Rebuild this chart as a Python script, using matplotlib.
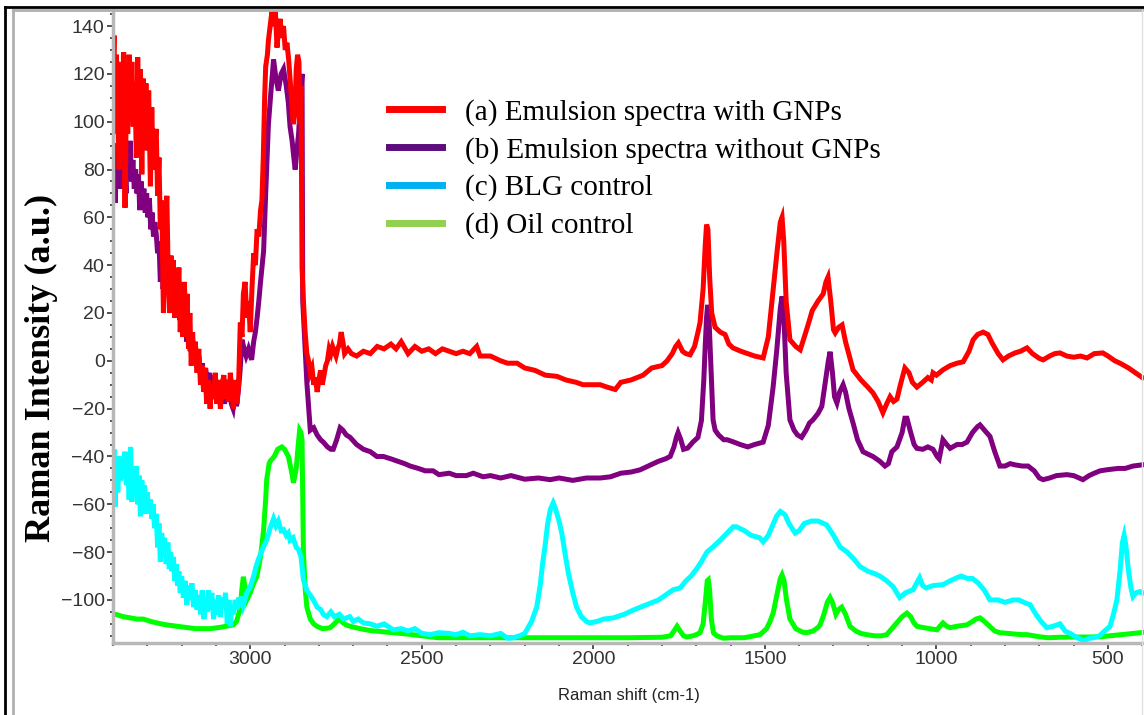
import matplotlib
matplotlib.use("Agg")
import matplotlib.pyplot as plt
from matplotlib.lines import Line2D
from matplotlib.ticker import MultipleLocator

# Raman spectra (x = Raman shift, y = intensity)
red_x = [3400, 3397, 3394, 3390, 3386, 3382, 3378, 3374, 3369, 3365, 3361, 3357, 3353, 3349, 3345,
         3341, 3336, 3332, 3328, 3324, 3320, 3316, 3312, 3308, 3304, 3300, 3296, 3291, 3287, 3283,
         3279, 3274, 3270, 3266, 3262, 3258, 3253, 3249, 3245, 3243, 3239, 3235, 3231, 3228, 3224,
         3220, 3216, 3212, 3208, 3204, 3200, 3196, 3192, 3188, 3184, 3180, 3176, 3172, 3168, 3164,
         3160, 3155, 3150, 3145, 3140, 3136, 3132, 3127, 3122, 3117, 3112, 3107, 3102, 3097, 3092,
         3087, 3082, 3077, 3072, 3067, 3062, 3058, 3054, 3049, 3044, 3039, 3034, 3031, 3029, 3024,
         3020, 3015, 3010, 3005, 3000, 2995, 2990, 2985, 2980, 2975, 2970, 2966, 2962, 2958, 2955,
         2950, 2947, 2942, 2937, 2932, 2927, 2922, 2918, 2913, 2908, 2903, 2898, 2893, 2888, 2884,
         2879, 2875, 2870, 2866, 2862, 2858, 2855, 2852, 2849, 2845, 2840, 2835, 2830, 2825, 2820,
         2815, 2810, 2805, 2800, 2795, 2790, 2785, 2780, 2775, 2770, 2765, 2760, 2755, 2750, 2745,
         2740, 2735, 2730, 2725, 2715, 2705, 2690, 2670, 2650, 2630, 2610, 2590, 2575, 2560, 2540,
         2520, 2500, 2480, 2460, 2440, 2420, 2400, 2380, 2360, 2340, 2330, 2300, 2270, 2250, 2222,
         2200, 2170, 2140, 2106, 2080, 2050, 2030, 2009, 1980, 1960, 1936, 1920, 1890, 1855, 1830,
         1800, 1785, 1770, 1760, 1752, 1740, 1730, 1718, 1705, 1695, 1689, 1680, 1674, 1670, 1666,
         1661, 1655, 1645, 1630, 1616, 1605, 1593, 1570, 1550, 1530, 1505, 1490, 1479, 1465, 1455,
         1450, 1445, 1438, 1427, 1410, 1397, 1385, 1370, 1362, 1345, 1330, 1322, 1316, 1308, 1300,
         1295, 1285, 1275, 1265, 1243, 1220, 1200, 1185, 1170, 1156, 1145, 1135, 1125, 1115, 1105,
         1092, 1080, 1070, 1057, 1040, 1025, 1015, 1010, 1000, 981, 960, 940, 922, 905, 893,
         880, 864, 850, 838, 820, 806, 790, 771, 755, 736, 720, 700, 689, 670, 655,
         640, 620, 600, 580, 561, 540, 515, 500, 480, 465, 440, 420, 400]
red_y = [120, 136, 95, 128, 100, 80, 125, 90, 129, 64, 110, 95, 128, 100, 125,
         98, 115, 85, 127, 100, 122, 78, 118, 95, 116, 88, 113, 73, 106, 80,
         90, 97, 69, 85, 55, 67, 20, 45, 65, 69, 35, 20, 44, 22, 42,
         18, 35, 25, 39, 12, 30, 10, 33, 15, 28, 5, 20, -2, 12, 0,
         8, -5, 5, -10, -2, -13, -3, -18, -8, -20, -10, -16, -5, -18, -8,
         -20, -10, -6, -16, -8, -17, -5, -12, -20, -8, -18, -10, 5, 16, 10,
         28, 33, 18, 25, 12, 30, 45, 40, 55, 52, 63, 67, 85, 110, 123,
         128, 134, 140, 146, 140, 147, 131, 138, 143, 135, 140, 130, 133, 126, 118,
         108, 99, 103, 122, 128, 125, 99, 115, 39, 25, 12, 3, 0, -5, -3,
         -10, -7, -13, -8, -4, -10, -6, -2, 0, 5, 3, 6, 4, 2, 5,
         7, 12, 8, 3, 5, 3, 2, 4, 3, 6, 5, 7, 5, 8, 3,
         6, 4, 5, 3, 5, 4, 3, 4, 3, 6, 2, 2, 0, -1, -1,
         -3, -4, -6, -6.5, -8, -9, -10, -10, -10, -11, -12, -9, -8, -6, -3,
         -2, 0, 3, 6, 7.5, 4, 3, 2.5, 6, 12, 16, 30, 48, 57, 55,
         35, 20, 14, 12, 11, 7, 5.4, 4, 3, 2, 1.2, 10, 25.5, 45, 58,
         60, 50, 25, 8.8, 6, 4.6, 10, 17, 21, 25, 28, 33, 35, 25, 13,
         11.7, 14, 15, 8, -3.8, -8, -11, -13.4, -17, -21.7, -18, -15, -17, -16, -10,
         -3, -5, -9, -11, -9, -7, -8, -5, -6, -3.8, -2, -1, -0.4, 4, 8.8,
         11, 12, 11, 7.5, 3, 0.4, 2, 3.3, 4, 5.4, 3, 1, 0.4, 2, 3,
         3.3, 2, 1.5, 2, 1.2, 3, 3.3, 2, 0, -1, -3, -5, -7]

purple_x = [3400, 3397, 3394, 3390, 3386, 3382, 3378, 3374, 3370, 3366, 3362, 3358, 3354, 3350, 3346,
            3342, 3338, 3334, 3330, 3326, 3322, 3318, 3314, 3310, 3306, 3302, 3298, 3294, 3290, 3286,
            3282, 3278, 3274, 3270, 3266, 3262, 3258, 3254, 3250, 3245, 3240, 3235, 3230, 3225, 3220,
            3215, 3210, 3205, 3200, 3195, 3190, 3185, 3180, 3175, 3170, 3165, 3160, 3155, 3150, 3145,
            3140, 3135, 3130, 3125, 3120, 3115, 3110, 3105, 3100, 3095, 3090, 3085, 3080, 3075, 3070,
            3065, 3060, 3055, 3050, 3045, 3040, 3035, 3030, 3024, 3018, 3012, 3005, 2996, 2990, 2985,
            2980, 2975, 2970, 2965, 2961, 2955, 2950, 2947, 2940, 2932, 2925, 2918, 2910, 2903, 2895,
            2889, 2884, 2878, 2873, 2869, 2864, 2859, 2854, 2849, 2847, 2840, 2835, 2825, 2815, 2805,
            2795, 2787, 2775, 2765, 2758, 2748, 2738, 2730, 2720, 2709, 2690, 2670, 2650, 2631, 2612,
            2590, 2570, 2550, 2534, 2510, 2490, 2467, 2450, 2420, 2400, 2370, 2350, 2321, 2300, 2270,
            2240, 2200, 2160, 2126, 2100, 2060, 2020, 1980, 1950, 1920, 1890, 1864, 1840, 1810, 1790,
            1776, 1765, 1758, 1753, 1745, 1737, 1725, 1710, 1695, 1685, 1678, 1674, 1670, 1667, 1663,
            1658, 1654, 1651, 1645, 1635, 1620, 1610, 1590, 1572, 1550, 1530, 1505, 1490, 1476, 1465,
            1455, 1450, 1445, 1438, 1427, 1415, 1405, 1393, 1380, 1370, 1360, 1345, 1334, 1325, 1315,
            1310, 1303, 1297, 1290, 1282, 1272, 1265, 1255, 1243, 1230, 1214, 1200, 1185, 1165, 1150,
            1140, 1130, 1115, 1100, 1092, 1086, 1075, 1065, 1057, 1040, 1025, 1010, 998, 992, 981,
            970, 960, 940, 925, 911, 895, 880, 873, 860, 844, 830, 815, 800, 785, 771,
            750, 733, 715, 700, 689, 670, 650, 620, 600, 573, 555, 540, 523, 500, 470,
            450, 427, 400]
purple_y = [80, 91, 66, 85, 78, 92, 72, 88, 74, 80, 70, 90, 78, 92, 75,
            84, 72, 80, 70, 78, 63, 75, 66, 72, 62, 70, 60, 68, 55, 62,
            52, 58, 53, 45, 50, 33, 42, 30, 38, 28, 36, 25, 33, 22, 30,
            20, 27, 17, 22, 12, 18, 8, 12, 4, 8, 0, 5, -3, 2, -6,
            -1, -8, -3, -10, -5, -12, -6, -14, -8, -15, -9, -16, -10, -18, -12,
            -17, -13, -18, -20, -14, -19, -13, -5, 8.8, 5, 2, 5, 0.4, 8, 12,
            18, 25, 33, 40, 46, 70, 88, 99, 112, 126, 118, 113, 120, 122, 115,
            108, 98, 92, 85, 80, 88, 95, 108, 120, 25, 5, -9, -29, -28, -31,
            -33, -34, -36, -37, -37, -33, -28, -29, -31, -32, -35, -37, -38, -40, -40,
            -41, -42, -43, -44, -45, -46, -46, -47.6, -47, -48, -48, -47, -48.5, -48, -49,
            -48, -49.5, -49, -49.7, -49, -50, -49, -49, -48.5, -47, -46.5, -45.6, -44, -42, -41,
            -40, -36, -32, -30, -33, -37, -36.5, -34, -32, -25, -8, 6, 18, 23.4, 18,
            0, -15, -24.7, -29, -31, -33, -33, -34, -35, -36, -35, -34, -27, -11, 5,
            22, 26.9, 20, -5, -24.7, -29, -31, -32, -29, -26, -24.7, -22, -19, -10, 0,
            3.8, -5, -15, -17.6, -13, -10, -13, -20, -26, -33, -38, -39, -40, -42, -44,
            -43, -38, -36, -30, -24, -24, -30, -35, -36.6, -37, -36, -37, -40, -41, -33,
            -35, -36.6, -35, -35, -34, -30, -27.5, -26.8, -29, -31.6, -38, -44, -44, -43, -43.5,
            -44, -44, -46, -49, -49.7, -49, -48, -47.6, -48, -49.7, -48, -47, -46, -45.5, -45,
            -45, -44, -43.5]

cyan_x = [3400, 3397, 3394, 3390, 3386, 3382, 3378, 3374, 3369, 3365, 3361, 3357, 3353, 3349, 3345,
          3341, 3336, 3332, 3328, 3324, 3320, 3316, 3312, 3308, 3304, 3300, 3296, 3291, 3287, 3283,
          3279, 3274, 3270, 3266, 3262, 3258, 3254, 3250, 3245, 3240, 3236, 3232, 3228, 3224, 3220,
          3216, 3212, 3208, 3204, 3200, 3195, 3190, 3185, 3180, 3175, 3170, 3165, 3160, 3155, 3150,
          3145, 3140, 3135, 3130, 3126, 3122, 3117, 3112, 3107, 3102, 3097, 3092, 3087, 3082, 3077,
          3072, 3067, 3062, 3058, 3054, 3049, 3044, 3039, 3034, 3029, 3024, 3020, 3010, 3000, 2990,
          2983, 2976, 2965, 2952, 2942, 2932, 2925, 2918, 2910, 2903, 2895, 2889, 2884, 2875, 2866,
          2859, 2852, 2845, 2835, 2825, 2816, 2805, 2795, 2787, 2777, 2765, 2755, 2740, 2728, 2710,
          2700, 2685, 2670, 2650, 2630, 2610, 2583, 2560, 2540, 2520, 2500, 2476, 2450, 2420, 2400,
          2380, 2360, 2330, 2300, 2270, 2250, 2233, 2215, 2200, 2194, 2180, 2170, 2165, 2155, 2148,
          2141, 2133, 2125, 2117, 2110, 2100, 2092, 2082, 2073, 2060, 2049, 2035, 2020, 2010, 1990,
          1970, 1942, 1910, 1880, 1845, 1810, 1790, 1767, 1747, 1730, 1715, 1699, 1685, 1669, 1651,
          1630, 1610, 1592, 1583, 1560, 1540, 1515, 1505, 1490, 1475, 1466, 1455, 1441, 1430, 1412,
          1400, 1385, 1364, 1345, 1320, 1300, 1281, 1260, 1240, 1223, 1200, 1180, 1165, 1145, 1126,
          1107, 1090, 1068, 1049, 1040, 1030, 1010, 981, 960, 945, 928, 910, 895, 879, 860,
          844, 820, 800, 777, 760, 745, 727, 710, 695, 678, 660, 640, 625, 610, 590,
          570, 555, 543, 525, 510, 494, 484, 474, 465, 458, 453, 448, 440, 433, 427,
          418, 407, 400]
cyan_y = [-45, -37, -61, -42, -55, -40, -50, -44, -49, -38, -52, -40, -58, -36, -59,
          -45, -52, -44, -60, -48, -65, -50, -62, -52, -64, -55, -63, -58, -66, -60,
          -70, -64, -78, -68, -84, -72, -80, -74, -85, -76, -87, -80, -88, -82, -92,
          -85, -94, -88, -97, -90, -99, -92, -102, -94, -100, -93, -103, -96, -104, -98,
          -106, -96, -108, -99, -105, -96, -104, -97, -108, -100, -106, -98, -107, -99, -103,
          -97, -110, -100, -111, -102, -106, -100, -104, -99, -103, -98.6, -102, -97, -94.5, -90,
          -86, -83, -79, -75, -70, -66, -69, -67, -71, -70.6, -73, -72, -75, -74, -78,
          -79, -82, -91.6, -96, -98, -100, -103, -104, -106, -107, -105, -107, -106, -108, -107,
          -109, -108, -109.6, -110, -111, -110, -112.5, -112, -113, -112, -114, -114.5, -113.7, -114, -114.5,
          -113.5, -115, -114.5, -115, -114, -116, -115.8, -115, -114, -112.5, -109, -105, -103, -94, -85,
          -77.8, -68, -62, -59.4, -62, -67, -72, -81, -88.6, -97, -103, -107, -109, -109.6, -109,
          -108, -107.5, -106, -104, -102, -100, -98, -95.7, -95, -92, -90, -87, -84, -80, -77.8,
          -75, -72, -69.4, -69.4, -71, -73, -74, -75.7, -73, -68, -65, -63, -64.4, -68, -72,
          -71, -68, -67, -67, -68.6, -73, -77.8, -80, -83, -86, -88, -89, -90, -92, -94.5,
          -99, -97, -95.7, -90.7, -94, -95, -94, -93.6, -92, -91, -90, -91, -91, -92.8, -96,
          -100, -100, -101, -100, -100, -101, -102, -106, -109, -111.6, -111, -110, -113, -114, -115.8,
          -117, -116, -115.8, -115, -113, -111, -106, -100, -88, -76, -73, -77, -88, -95, -98.6,
          -97, -96.5, -97]

green_x = [3400, 3393, 3370, 3350, 3330, 3311, 3290, 3260, 3240, 3214, 3190, 3160, 3117, 3090, 3070,
           3049, 3040, 3032, 3029, 3024, 3020, 3016, 3010, 3000, 2990, 2981, 2970, 2961, 2955, 2952,
           2945, 2942, 2930, 2920, 2908, 2900, 2889, 2880, 2874, 2866, 2860, 2856, 2852, 2849, 2846,
           2845, 2840, 2835, 2825, 2815, 2806, 2790, 2775, 2767, 2755, 2745, 2738, 2730, 2720, 2709,
           2680, 2650, 2620, 2583, 2540, 2500, 2452, 2400, 2300, 2200, 2100, 2000, 1900, 1800, 1775,
           1765, 1756, 1747, 1737, 1727, 1710, 1700, 1689, 1680, 1673, 1668, 1665, 1661, 1656, 1650,
           1640, 1621, 1600, 1560, 1514, 1495, 1485, 1476, 1465, 1455, 1450, 1444, 1437, 1427, 1410,
           1390, 1378, 1360, 1345, 1339, 1328, 1318, 1310, 1303, 1293, 1285, 1276, 1265, 1252, 1235,
           1220, 1204, 1180, 1160, 1145, 1130, 1116, 1100, 1086, 1075, 1066, 1057, 1040, 1020, 998,
           990, 981, 970, 960, 940, 911, 895, 885, 873, 860, 845, 830, 815, 790, 770,
           750, 736, 700, 674, 640, 600, 560, 523, 480, 440, 407, 400]
green_y = [-106, -106, -107, -107.5, -108, -108, -109, -110, -110.5, -111, -111.5, -112, -112, -111.5, -111,
           -110.4, -109, -105, -103, -95, -90.3, -94, -100, -97, -93, -90.3, -82, -70.6, -58, -49.7,
           -43, -42, -40, -37, -36, -37, -40, -46, -51, -45, -35, -29, -30, -33, -70,
           -80, -95, -103, -108, -110, -111, -112, -111.8, -111.6, -110, -108.5, -108, -109.5, -110.5, -111,
           -112, -112.8, -113.2, -113.7, -114.3, -115, -115.8, -115.8, -115.8, -115.8, -115.8, -115.8, -115.8, -115.6, -115,
           -113, -111, -113, -115, -115.5, -115, -114.5, -113.7, -110, -100, -92, -91.6, -96, -108, -113.7,
           -115, -116, -115.8, -115.8, -114.5, -112, -109, -105.5, -98, -91, -89.5, -92, -100, -108, -112,
           -113.5, -113.7, -113, -111.5, -110.4, -106, -101, -99, -101, -106, -104, -103, -106, -111, -113,
           -114, -114.5, -115, -115, -114.5, -112, -109.6, -107, -105.5, -107, -109.5, -111, -111.5, -112, -112.5,
           -111, -109.6, -111, -111.6, -111, -110.4, -109, -108, -107.5, -109, -111, -113, -113.7, -114, -114.3,
           -114.5, -114.5, -115.4, -115.8, -115.6, -115.5, -115.5, -115.4, -114.8, -114.2, -113.7, -113.6]

labels = ["(a) Emulsion spectra with GNPs", "(b) Emulsion spectra without GNPs",
          "(c) BLG control", "(d) Oil control"]
line_colors = ["#ff0000", "#800080", "#00ffff", "#00ff00"]
legend_colors = ["#ff0000", "#5c0c7c", "#00b0f0", "#92d050"]

fig = plt.figure(figsize=(11.44, 7.15), dpi=100)
ax = fig.add_axes([113 / 1144, 72 / 715, 1 - 113 / 1144, (643 - 10) / 715])

# Draw bottom to top: oil, BLG, emulsion without, emulsion with
ax.plot(green_x, green_y, color=line_colors[3], lw=3.6, solid_joinstyle="miter")
ax.plot(cyan_x, cyan_y, color=line_colors[2], lw=3.6, solid_joinstyle="miter")
ax.plot(purple_x, purple_y, color=line_colors[1], lw=3.6, solid_joinstyle="miter")
ax.plot(red_x, red_y, color=line_colors[0], lw=3.6, solid_joinstyle="miter")

ax.set_xlim(3400, 395)
ax.set_ylim(-118, 146.7)
ax.xaxis.set_major_locator(MultipleLocator(500))
ax.xaxis.set_minor_locator(MultipleLocator(100))
ax.yaxis.set_major_locator(MultipleLocator(20))
ax.yaxis.set_minor_locator(MultipleLocator(5))

for side in ["top", "right"]:
    ax.spines[side].set_visible(False)
for side in ["left", "bottom"]:
    ax.spines[side].set_color("#b8b8b8")
    ax.spines[side].set_linewidth(2.5)

ax.tick_params(which="major", length=4, width=1.2, color="#333333",
               labelsize=14, labelcolor="#333333", pad=2)
ax.tick_params(which="minor", length=2, width=1.2, color="#333333")
for lab in ax.get_xticklabels() + ax.get_yticklabels():
    lab.set_fontfamily("Liberation Sans")

ax.set_ylabel("Raman Intensity (a.u.)", fontsize=26, fontweight="bold",
              family="Liberation Serif")
ax.yaxis.set_label_coords(-0.053, 0.434)
ax.set_xlabel("Raman shift (cm-1)", fontsize=12, family="Liberation Sans", color="#222222")
ax.xaxis.set_label_coords(0.5, -0.071)

handles = [Line2D([], [], color=c, lw=5) for c in legend_colors]
ax.legend(handles, labels, loc="upper left", frameon=False,
          bbox_to_anchor=(389 / 1144, 1 - 99 / 715), bbox_transform=fig.transFigure,
          borderaxespad=0, borderpad=0, handlelength=1.8, handletextpad=0.82,
          labelspacing=0.37, prop={"family": "Liberation Serif", "size": 21})

# picture frame around the chart
fig.add_artist(Line2D([5 / 1144, 5 / 1144], [0, 1 - 7 / 715], color="black", lw=2,
                      transform=fig.transFigure))
fig.add_artist(Line2D([5 / 1144, 1], [1 - 7 / 715, 1 - 7 / 715], color="black", lw=2,
                      transform=fig.transFigure))
fig.add_artist(Line2D([13 / 1144, 13 / 1144], [0, 1 - 10 / 715], color="#b0b0b0", lw=2,
                      transform=fig.transFigure))
fig.add_artist(Line2D([13 / 1144, 1142 / 1144], [1 - 10 / 715, 1 - 10 / 715], color="#b0b0b0",
                      lw=2, transform=fig.transFigure))
fig.add_artist(Line2D([1142 / 1144, 1142 / 1144], [0, 1 - 10 / 715], color="#e0e0e0", lw=1,
                      transform=fig.transFigure))

fig.savefig("out.png", dpi=100)
